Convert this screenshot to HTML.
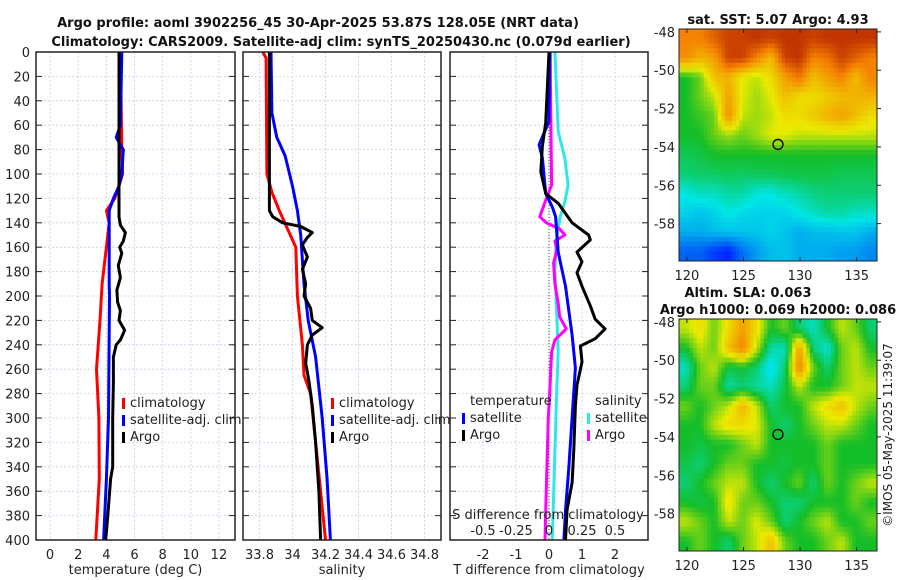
<!DOCTYPE html>
<html><head><meta charset="utf-8">
<style>
body{margin:0;background:#fff;}
svg{display:block;font-family:"DejaVu Sans","Liberation Sans",sans-serif;}
.b{font-weight:bold;font-size:13px;fill:#111;}
</style></head>
<body>
<svg id="fig" width="900" height="580" viewBox="0 0 900 580" xmlns="http://www.w3.org/2000/svg">
<rect width="900" height="580" fill="#fff"/>
<text class="b" x="318" y="27" text-anchor="middle">Argo profile: aoml 3902256_45 30-Apr-2025 53.87S 128.05E (NRT data)</text>
<text class="b" x="341" y="46" text-anchor="middle">Climatology: CARS2009. Satellite-adj clim: synTS_20250430.nc (0.079d earlier)</text>
<g id="plots"></g>
</svg>
<script>
// ---------- data ----------
const depthTicks=[0,20,40,60,80,100,120,140,160,180,200,220,240,260,280,300,320,340,360,380,400];
const tempTicks=[0,2,4,6,8,10,12];
const salTicks=[33.8,34,34.2,34.4,34.6,34.8];
const salTickLabels=["33.8","34","34.2","34.4","34.6","34.8"];
const tdiffTicks=[-2,-1,0,1,2];
const sdiffTicks=[-0.5,-0.25,0,0.25,0.5];
const sdiffTickLabels=["-0.5","-0.25","0","0.25","0.5"];

const tClimD=[0,80,100,120,130,140,160,190,220,260,300,350,400];
const tClimV=[5.0,5.1,5.15,4.6,4.0,4.2,4.0,3.7,3.55,3.3,3.47,3.5,3.25];
const tSatD=[0,60,70,80,100,110,120,130,160,190,200,300,350,400];
const tSatV=[5.1,5.0,4.7,5.2,5.1,4.9,4.5,4.2,4.2,4.2,4.22,4.15,4.0,3.8];
const tArgoD=[0,60,80,100,120,135,142,148,155,160,165,175,185,195,205,212,220,228,236,240,250,270,300,340,350,380,400];
const tArgoV=[4.9,4.9,4.9,4.9,4.9,4.9,5.0,5.35,5.2,4.95,5.1,4.85,5.0,4.75,4.8,5.0,4.9,5.3,5.0,4.7,4.5,4.5,4.45,4.45,4.3,4.1,3.95];

const sClimD=[0,5,100,115,130,145,160,200,240,265,280,320,360,400];
const sClimV=[33.82,33.84,33.845,33.875,33.92,33.97,34.02,34.03,34.06,34.07,34.11,34.14,34.17,34.2];
const sSatD=[0,50,70,85,110,130,150,190,220,250,300,350,400];
const sSatV=[33.87,33.875,33.905,33.955,34.0,34.03,34.05,34.07,34.095,34.14,34.18,34.21,34.23];
const sArgoD=[0,130,135,140,143,148,152,158,168,178,190,200,210,220,226,232,240,255,270,290,320,360,400];
const sArgoV=[33.86,33.86,33.88,33.94,34.05,34.12,34.09,34.06,34.09,34.06,34.08,34.07,34.11,34.12,34.18,34.12,34.09,34.08,34.1,34.12,34.14,34.16,34.17];

const dtArgoD=[0,58,77,98,116,124,140,150,154,164,172,181,192,208,219,227,235,241,254,273,290,326,353,375,400];
const dtArgoV=[0,-0.1,-0.2,-0.25,-0.1,0.28,0.7,1.2,1.25,0.85,1.0,0.85,1.0,1.25,1.4,1.7,1.4,0.95,1.0,0.85,0.8,0.75,0.7,0.55,0.5];
const dtSatD=[0,57,76,87,116,127,135,164,192,232,259,300,341,376,400];
const dtSatV=[0.03,0,-0.3,-0.2,-0.1,0.1,0.2,0.28,0.5,0.7,0.8,0.7,0.6,0.5,0.45];
const dsSatD=[0,65,87,109,123,135,154,179,219,246,273,328,400];
const dsSatV=[0.045,0.07,0.12,0.145,0.12,0.085,0.055,0.045,0.06,0.07,0.06,0.045,0.025];
const dsArgoD=[0,109,123,135,140,145,150,155,162,173,190,206,217,227,236,246,273,300,355,400];
const dsArgoV=[0.008,0.02,-0.03,-0.07,-0.02,0.08,0.12,0.045,0.06,0.035,0.045,0.07,0.08,0.13,0.045,0.02,0.008,-0.005,-0.02,-0.03];

const lonTicks=[120,125,130,135];
const latTicks=[-48,-50,-52,-54,-56,-58];
const floatLon=128.05, floatLat=-53.87;
const sstGrid=[
[.8,.8,.85,.9,.9,.92,.9,.92,.92,.9,.92,.92,.92,.92],
[.78,.72,.75,.9,.9,.8,.7,.9,.92,.8,.82,.9,.85,.8],
[.5,.55,.7,.72,.62,.6,.65,.75,.82,.7,.75,.8,.7,.8],
[.5,.55,.6,.75,.62,.58,.62,.7,.65,.65,.68,.7,.72,.72],
[.5,.52,.55,.78,.6,.58,.6,.65,.65,.68,.72,.75,.7,.65],
[.5,.5,.55,.58,.55,.58,.62,.62,.6,.6,.6,.6,.6,.6],
[.47,.48,.5,.5,.5,.5,.5,.5,.5,.5,.5,.5,.5,.5],
[.45,.46,.46,.47,.46,.47,.47,.48,.48,.48,.48,.47,.47,.47],
[.38,.4,.4,.42,.42,.38,.38,.4,.42,.44,.45,.45,.45,.45],
[.35,.33,.35,.38,.36,.35,.35,.35,.38,.4,.42,.42,.4,.4],
[.3,.3,.32,.33,.33,.33,.35,.33,.3,.32,.32,.33,.33,.3],
[.2,.2,.15,.12,.22,.28,.32,.33,.3,.3,.3,.28,.28,.25]];
const slaGrid=[
[.6,.65,.55,.65,.75,.65,.5,.55,.45,.4,.5,.6,.55,.45],
[.5,.6,.55,.7,.8,.6,.42,.4,.75,.45,.38,.55,.6,.5],
[.4,.55,.6,.48,.5,.45,.35,.45,.8,.55,.45,.55,.6,.55],
[.45,.55,.55,.42,.45,.42,.4,.48,.6,.5,.5,.55,.6,.6],
[.55,.5,.55,.6,.72,.6,.45,.5,.5,.6,.65,.7,.6,.55],
[.5,.5,.6,.65,.65,.62,.5,.45,.5,.55,.6,.6,.55,.5],
[.5,.48,.5,.5,.55,.6,.5,.5,.5,.5,.55,.5,.5,.5],
[.48,.45,.5,.55,.55,.5,.5,.48,.5,.5,.55,.5,.5,.5],
[.45,.5,.55,.6,.6,.5,.45,.5,.55,.45,.55,.5,.55,.6],
[.5,.48,.5,.65,.55,.55,.5,.45,.45,.5,.5,.5,.55,.5],
[.6,.55,.5,.6,.55,.62,.55,.45,.5,.55,.6,.5,.5,.55],
[.5,.55,.5,.45,.55,.6,.7,.55,.5,.5,.55,.6,.5,.5]];

// ---------- drawing ----------
const NS="http://www.w3.org/2000/svg";
const root=document.getElementById('plots');
function el(tag,attrs,parent){const e=document.createElementNS(NS,tag);for(const k in attrs)e.setAttribute(k,attrs[k]);(parent||root).appendChild(e);return e;}
function txt(x,y,s,anchor,parent,size){const t=el('text',{x:x,y:y,'text-anchor':anchor||'middle','font-size':size||13,fill:'#222'},parent);t.textContent=s;return t;}

const Y0=52,Y1=540;
function yD(d){return Y0+(d/400)*(Y1-Y0);}
function lin(d0,d1,r0,r1){return v=>r0+(v-d0)/(d1-d0)*(r1-r0);}

function panel(name,x0,x1,xs,ticks,labels,xlabel){
  const g=el('g',{});
  
  
  ticks.forEach(v=>el('line',{x1:xs(v),x2:xs(v),y1:Y0,y2:Y1,stroke:'#c8cfe8','stroke-width':0.8,'stroke-dasharray':'2,2'},g));
  depthTicks.forEach(d=>{el('line',{x1:x0,x2:x1,y1:yD(d),y2:yD(d),stroke:'#c8cfe8','stroke-width':0.8,'stroke-dasharray':'2,2'},g);
    el('line',{x1:x0,x2:x0+6,y1:yD(d),y2:yD(d),stroke:'#222'},g);el('line',{x1:x1-6,x2:x1,y1:yD(d),y2:yD(d),stroke:'#222'},g);});
  if(labels){ticks.forEach((v,i)=>{txt(xs(v),559,labels[i],'middle',g);});}
  if(xlabel){const t=txt((x0+x1)/2,574,xlabel,'middle',g);}
  return g;
}
function line(g,D,V,xs,color,name,w){
  const p=el('polyline',{points:D.map((d,i)=>xs(V[i]).toFixed(1)+','+yD(d).toFixed(1)).join(' '),fill:'none',stroke:color,'stroke-width':w||3,'stroke-linejoin':'round'},g);
  
  
}
function frame(g,x0,x1){el('rect',{x:x0,y:Y0,width:x1-x0,height:Y1-Y0,fill:'none',stroke:'#222','stroke-width':1.5},g);}
function legendEntry(g,x,y,color,label,name){
  el('rect',{x:x,y:y-9,width:3,height:11,fill:color},g);
  const t=txt(x+8,y,label,'start',g);
  
  
}

// Panel 1 temperature
const xT=lin(-1,13.14,36,235);
const g1=panel('temperature-panel',36,235,xT,tempTicks,tempTicks.map(String),'temperature (deg C)');
depthTicks.forEach(d=>txt(30,yD(d)+5,String(d),'end',g1));
line(g1,tClimD,tClimV,xT,'#f00','temp-climatology-line');
line(g1,tSatD,tSatV,xT,'#00f','temp-satellite-line');
line(g1,tArgoD,tArgoV,xT,'#000','temp-argo-line');
frame(g1,36,235);
legendEntry(g1,122,407,'#f00','climatology','legend-climatology');
legendEntry(g1,122,424,'#00f','satellite-adj. clim','legend-satellite');
legendEntry(g1,122,441,'#000','Argo','legend-argo');

// Panel 2 salinity
const xS=lin(33.7,34.9,243,441);
const g2=panel('salinity-panel',243,441,xS,salTicks,salTickLabels,'salinity');
line(g2,sClimD,sClimV,xS,'#f00','sal-climatology-line');
line(g2,sSatD,sSatV,xS,'#00f','sal-satellite-line');
line(g2,sArgoD,sArgoV,xS,'#000','sal-argo-line');
frame(g2,243,441);
legendEntry(g2,331,407,'#f00','climatology','legend-climatology-2');
legendEntry(g2,331,424,'#00f','satellite-adj. clim','legend-satellite-2');
legendEntry(g2,331,441,'#000','Argo','legend-argo-2');

// Panel 3 differences
const xDT=lin(-3,3,450,648);
const xDS=lin(-0.75,0.75,450,648);
const g3=panel('difference-panel',450,648,xDT,tdiffTicks,tdiffTicks.map(String),'T difference from climatology');
el('line',{x1:xDT(0),x2:xDT(0),y1:Y0,y2:Y1,stroke:'#444','stroke-width':1,'stroke-dasharray':'1,2'},g3);
line(g3,dsSatD,dsSatV,xDS,'#2ee8e8','sal-diff-satellite-line');
line(g3,dsArgoD,dsArgoV,xDS,'#f0f','sal-diff-argo-line');
line(g3,dtSatD,dtSatV,xDT,'#00f','temp-diff-satellite-line');
line(g3,dtArgoD,dtArgoV,xDT,'#000','temp-diff-argo-line');
frame(g3,450,648);
txt(470,405,'temperature','start',g3);
legendEntry(g3,462,422,'#00f','satellite','legend-t-satellite');
legendEntry(g3,462,439,'#000','Argo','legend-t-argo');
txt(595,405,'salinity','start',g3);
legendEntry(g3,587,422,'#2ee8e8','satellite','legend-s-satellite');
legendEntry(g3,587,439,'#f0f','Argo','legend-s-argo');
txt(548,519,'S difference from climatology','middle',g3);
sdiffTicks.forEach((v,i)=>txt(xDS(v),535,sdiffTickLabels[i],'middle',g3));

// Maps
function jet(v){
  const c=[[0,[0,0,140]],[0.125,[0,40,255]],[0.375,[0,230,230]],[0.5,[20,190,40]],[0.625,[235,235,0]],[0.8,[245,130,0]],[1,[160,0,0]]];
  for(let i=1;i<c.length;i++){if(v<=c[i][0]){const a=c[i-1],b=c[i],t=(v-a[0])/(b[0]-a[0]);return 'rgb('+a[1].map((q,k)=>Math.round(q+(b[1][k]-q)*t)).join(',')+')';}}
  return 'rgb(160,0,0)';
}
function sample(grid,r,c){
  const R=grid.length,C=grid[0].length;
  r=Math.max(0,Math.min(R-1,r));c=Math.max(0,Math.min(C-1,c));
  const r0=Math.floor(r),c0=Math.floor(c),r1=Math.min(R-1,r0+1),c1=Math.min(C-1,c0+1),fr=r-r0,fc=c-c0;
  return grid[r0][c0]*(1-fr)*(1-fc)+grid[r0][c1]*(1-fr)*fc+grid[r1][c0]*fr*(1-fc)+grid[r1][c1]*fr*fc;
}
function mapPanel(name,top,grid,title){
  const g=el('g',{});
  
  
  const x0=679,x1=877,y1=top+232;
  const lx=lin(119.3,136.8,x0,x1), ly=lin(-47.85,-59.95,top,y1);
  const rows=grid.length,cols=grid[0].length,F=4,cw=(x1-x0)/(cols*F),ch=(y1-top)/(rows*F);
  for(let i=0;i<rows*F;i++)for(let j=0;j<cols*F;j++){
    const v=sample(grid,(i+0.5)/F-0.5,(j+0.5)/F-0.5);
    const c=el('rect',{x:(x0+j*cw).toFixed(2),y:(top+i*ch).toFixed(2),width:(cw+0.4).toFixed(2),height:(ch+0.4).toFixed(2),fill:jet(v)},g);
    
    
  }
  el('rect',{x:x0,y:top,width:x1-x0,height:y1-top,fill:'none',stroke:'#222','stroke-width':1},g);
  lonTicks.forEach(v=>{txt(lx(v),y1+19,String(v),'middle',g);el('line',{x1:lx(v),x2:lx(v),y1:y1,y2:y1-4,stroke:'#222'},g);el('line',{x1:lx(v),x2:lx(v),y1:top,y2:top+4,stroke:'#222'},g);});
  latTicks.forEach(v=>{txt(x0-4,ly(v)+5,String(v),'end',g);el('line',{x1:x1,x2:x1+4,y1:ly(v),y2:ly(v),stroke:'#222'},g);});
  const m=el('circle',{cx:lx(floatLon),cy:ly(floatLat),r:5,fill:'none',stroke:'#000','stroke-width':1.3},g);
  
  
  title.forEach((s,i)=>{const t=el('text',{x:title.length==1?778:(i==0?748:778),y:top-(title.length-i)*17+12,'text-anchor':'middle','font-size':13,'font-weight':'bold',fill:'#111'},g);t.textContent=s;});
  return g;
}
mapPanel('sst-map',29,sstGrid,['sat. SST: 5.07 Argo: 4.93']);
mapPanel('sla-map',319,slaGrid,['Altim. SLA: 0.063','Argo h1000: 0.069 h2000: 0.086']);
const cr=el('text',{x:892,y:435,'text-anchor':'middle','font-size':12,fill:'#222',transform:'rotate(-90 892 435)'});


cr.textContent='©IMOS 05-May-2025 11:39:07';
</script>
</body></html>
